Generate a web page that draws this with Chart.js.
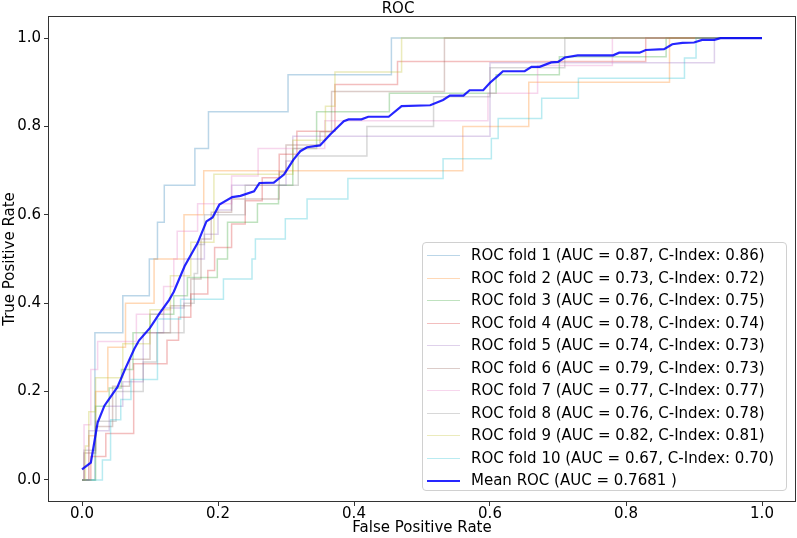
<!DOCTYPE html>
<html>
<head>
<meta charset="utf-8">
<script src="https://cdn.jsdelivr.net/npm/chart.js@4.4.0/dist/chart.umd.min.js"></script>
<style>
  body { margin: 0; background: #fff; }
  #wrap { position: relative; width: 797px; height: 538px; }
  #legend {
    position: absolute; left: 422px; top: 242px; width: 365px; height: 249px;
    box-sizing: border-box; border: 1px solid #d0d0d0; border-radius: 4px;
    background: rgba(255,255,255,0.8);
    font-family: "DejaVu Sans", sans-serif; font-size: 15px; color: #000;
    padding-top: 1px;
  }
  .row { height: 22.5px; line-height: 22.5px; position: relative; white-space: nowrap; }
  .swatch { position: absolute; left: 4px; top: 11px; width: 33px; }
  .row span { position: absolute; left: 48px; }
</style>
</head>
<body>
<div id="wrap">
  <canvas id="roc" width="797" height="538"></canvas>
  <div id="legend"></div>
</div>
<script>
// fold curves (fpr / tpr)
const fpr1 = [0, 0.019,0.019, 0.060,0.060, 0.099,0.099, 0.111,0.111, 0.121,0.121, 0.166,0.166, 0.186,0.186, 0.303,0.303, 0.455,0.455, 1];
const tpr1 = [0,0, 0.333,0.333, 0.417,0.417, 0.5,0.5, 0.583,0.583, 0.667,0.667, 0.75,0.75, 0.833,0.833, 0.917,0.917, 1,1];

const fpr2 = [0, 0.01,0.01, 0.02,0.02, 0.038,0.038, 0.064,0.064, 0.106,0.106, 0.15,0.15, 0.179,0.179, 0.56,0.56, 0.657,0.657, 0.864,0.864, 1];
const tpr2 = [0,0, 0.1,0.1, 0.2,0.2, 0.3,0.3, 0.4,0.4, 0.5,0.5, 0.6,0.6, 0.7,0.7, 0.8,0.8, 0.9,0.9, 1,1];

const fpr3 = [0, 0.02,0.02, 0.04,0.04, 0.058,0.058, 0.075,0.075, 0.1,0.1, 0.135,0.135, 0.155,0.155, 0.199,0.199, 0.214,0.214, 0.258,0.258, 0.289,0.289, 0.31,0.31, 0.345,0.345, 0.452,0.452, 0.609,0.609, 0.702,0.702, 0.859,0.859, 1];
const tpr3 = [0,0, 0.167,0.167, 0.208,0.208, 0.25,0.25, 0.333,0.333, 0.375,0.375, 0.417,0.417, 0.458,0.458, 0.5,0.5, 0.583,0.583, 0.625,0.625, 0.667,0.667, 0.75,0.75, 0.833,0.833, 0.875,0.875, 0.917,0.917, 0.958,0.958, 1,1];

const fpr4 = [0, 0.013,0.013, 0.035,0.035, 0.076,0.076, 0.125,0.125, 0.142,0.142, 0.16,0.16, 0.185,0.185, 0.195,0.195, 0.22,0.22, 0.24,0.24, 0.265,0.265, 0.29,0.29, 0.316,0.316, 0.372,0.372, 0.464,0.464, 0.829,0.829, 1];
const tpr4 = [0,0, 0.053,0.053, 0.105,0.105, 0.263,0.263, 0.316,0.316, 0.368,0.368, 0.421,0.421, 0.474,0.474, 0.526,0.526, 0.579,0.579, 0.632,0.632, 0.684,0.684, 0.737,0.737, 0.789,0.789, 0.895,0.895, 0.947,0.947, 1,1];

const fpr5 = [0, 0.01,0.01, 0.04,0.04, 0.06,0.06, 0.09,0.09, 0.12,0.12, 0.15,0.15, 0.18,0.18, 0.2,0.2, 0.22,0.22, 0.3,0.3, 0.31,0.31, 0.6,0.6, 0.93,0.93, 1];
const tpr5 = [0,0, 0.111,0.111, 0.167,0.167, 0.222,0.222, 0.333,0.333, 0.389,0.389, 0.5,0.5, 0.556,0.556, 0.611,0.611, 0.667,0.667, 0.722,0.722, 0.778,0.778, 0.944,0.944, 1,1];

const fpr6 = [0, 0.003,0.003, 0.02,0.02, 0.045,0.045, 0.07,0.07, 0.1,0.1, 0.13,0.13, 0.16,0.16, 0.175,0.175, 0.19,0.19, 0.22,0.22, 0.29,0.29, 0.3,0.3, 0.35,0.35, 0.367,0.367, 0.533,0.533, 1];
const tpr6 = [0,0, 0.061,0.061, 0.121,0.121, 0.212,0.212, 0.273,0.273, 0.333,0.333, 0.394,0.394, 0.455,0.455, 0.545,0.545, 0.606,0.606, 0.636,0.636, 0.697,0.697, 0.758,0.758, 0.788,0.788, 0.879,0.879, 1,1];

const fpr7 = [0, 0.003,0.003, 0.013,0.013, 0.023,0.023, 0.08,0.08, 0.12,0.12, 0.135,0.135, 0.14,0.14, 0.17,0.17, 0.22,0.22, 0.259,0.259, 0.357,0.357, 0.597,0.597, 0.67,0.67, 0.78,0.78, 1];
const tpr7 = [0,0, 0.125,0.125, 0.25,0.25, 0.313,0.313, 0.375,0.375, 0.438,0.438, 0.5,0.5, 0.563,0.563, 0.625,0.625, 0.688,0.688, 0.75,0.75, 0.813,0.813, 0.875,0.875, 0.938,0.938, 1,1];

const fpr8 = [0, 0.003,0.003, 0.02,0.02, 0.05,0.05, 0.09,0.09, 0.11,0.11, 0.15,0.15, 0.165,0.165, 0.17,0.17, 0.18,0.18, 0.24,0.24, 0.318,0.318, 0.419,0.419, 0.517,0.517, 0.6,0.6, 0.71,0.71, 1];
const tpr8 = [0,0, 0.067,0.067, 0.133,0.133, 0.2,0.2, 0.267,0.267, 0.333,0.333, 0.4,0.4, 0.467,0.467, 0.533,0.533, 0.6,0.6, 0.667,0.667, 0.733,0.733, 0.8,0.8, 0.867,0.867, 0.933,0.933, 1,1];

const fpr9 = [0, 0.005,0.005, 0.01,0.01, 0.02,0.02, 0.06,0.06, 0.1,0.1, 0.13,0.13, 0.16,0.16, 0.194,0.194, 0.31,0.31, 0.358,0.358, 0.372,0.372, 0.47,0.47, 1];
const tpr9 = [0,0, 0.077,0.077, 0.154,0.154, 0.231,0.231, 0.308,0.308, 0.385,0.385, 0.462,0.462, 0.538,0.538, 0.692,0.692, 0.769,0.769, 0.846,0.846, 0.923,0.923, 1,1];

const fpr10 = [0, 0.03,0.03, 0.042,0.042, 0.057,0.057, 0.072,0.072, 0.111,0.111, 0.145,0.145, 0.208,0.208, 0.25,0.25, 0.255,0.255, 0.299,0.299, 0.331,0.331, 0.391,0.391, 0.531,0.531, 0.602,0.602, 0.612,0.612, 0.676,0.676, 0.73,0.73, 0.886,0.886, 0.903,0.903, 1];
const tpr10 = [0,0, 0.045,0.045, 0.136,0.136, 0.182,0.182, 0.227,0.227, 0.364,0.364, 0.409,0.409, 0.455,0.455, 0.5,0.5, 0.545,0.545, 0.591,0.591, 0.636,0.636, 0.682,0.682, 0.727,0.727, 0.773,0.773, 0.818,0.818, 0.864,0.864, 0.909,0.909, 0.955,0.955, 1,1];

// mean curve
const meanFpr = [0, 0.013, 0.023, 0.033, 0.052, 0.064, 0.077, 0.084, 0.1, 0.114, 0.128, 0.135, 0.151, 0.17, 0.183, 0.192, 0.202, 0.221, 0.233, 0.253, 0.261, 0.282, 0.297, 0.311, 0.321, 0.331, 0.35, 0.365, 0.385, 0.392, 0.411, 0.421, 0.451, 0.47, 0.512, 0.531, 0.541, 0.561, 0.57, 0.59, 0.6, 0.612, 0.619, 0.651, 0.661, 0.673, 0.69, 0.7, 0.71, 0.729, 0.781, 0.79, 0.82, 0.829, 0.856, 0.868, 0.883, 0.9, 0.912, 0.93, 0.939, 1];
const meanTpr = [0.024, 0.039, 0.13, 0.168, 0.21, 0.253, 0.297, 0.316, 0.344, 0.377, 0.407, 0.426, 0.484, 0.536, 0.585, 0.594, 0.623, 0.64, 0.643, 0.653, 0.672, 0.673, 0.691, 0.725, 0.744, 0.753, 0.757, 0.782, 0.812, 0.816, 0.816, 0.822, 0.822, 0.846, 0.848, 0.86, 0.87, 0.87, 0.882, 0.882, 0.899, 0.915, 0.925, 0.925, 0.935, 0.935, 0.945, 0.946, 0.956, 0.961, 0.961, 0.967, 0.967, 0.973, 0.975, 0.986, 0.989, 0.99, 0.996, 0.996, 1, 1];

const aucValues = ['0.87', '0.73', '0.76', '0.78', '0.74', '0.79', '0.77', '0.76', '0.82', '0.67'];
const cIndexValues = ['0.86', '0.72', '0.75', '0.74', '0.73', '0.73', '0.77', '0.78', '0.81', '0.70'];
const meanAuc = '0.7681';
const tickValues = [0, 0.2, 0.4, 0.6, 0.8, 1.0];

const foldFpr = [fpr1, fpr2, fpr3, fpr4, fpr5, fpr6, fpr7, fpr8, fpr9, fpr10];
const foldTpr = [tpr1, tpr2, tpr3, tpr4, tpr5, tpr6, tpr7, tpr8, tpr9, tpr10];
const tab10 = ['31,119,180', '255,127,14', '44,160,44', '214,39,40', '148,103,189',
               '140,86,75', '227,119,194', '127,127,127', '188,189,34', '23,190,207'];

const zip = (xs, ys) => xs.map((x, i) => ({ x: x, y: ys[i] }));

const datasets = foldFpr.map((f, i) => ({
  label: `ROC fold ${i + 1} (AUC = ${aucValues[i]}, C-Index: ${cIndexValues[i]})`,
  data: zip(f, foldTpr[i]),
  borderColor: `rgba(${tab10[i]},0.3)`,
  borderWidth: 1.5,
  pointRadius: 0,
  order: 10 - i,
}));
datasets.push({
  label: `Mean ROC (AUC = ${meanAuc} )`,
  data: zip(meanFpr, meanTpr),
  borderColor: 'rgba(0,0,255,0.85)',
  borderWidth: 2.2,
  pointRadius: 0,
  order: -1,
});

Chart.defaults.font.family = '"DejaVu Sans", sans-serif';
Chart.defaults.font.size = 15;
Chart.defaults.color = '#000';

const frame = {
  id: 'frame',
  afterDatasetsDraw(chart) {
    const a = chart.chartArea, ctx = chart.ctx;
    ctx.save();
    ctx.strokeStyle = '#333';
    ctx.lineWidth = 1;
    ctx.strokeRect(Math.round(a.left) + 0.5, Math.round(a.top) + 0.5,
                   Math.round(a.right - a.left) - 1, Math.round(a.bottom - a.top) - 1);
    ctx.restore();
  }
};

const setTicks = s => { s.ticks = tickValues.map(v => ({ value: v })); };

new Chart(document.getElementById('roc'), {
  type: 'line',
  data: { datasets: datasets },
  options: {
    responsive: false,
    animation: false,
    layout: { padding: { top: 0, right: 1, left: 0, bottom: 0 } },
    plugins: {
      legend: { display: false },
      tooltip: { enabled: false },
      title: { display: true, text: 'ROC', font: { size: 15, weight: 'normal', lineHeight: 1.0 },
               padding: { top: 2, bottom: -1 } },
    },
    scales: {
      x: {
        type: 'linear', min: -0.05, max: 1.05,
        afterBuildTicks: setTicks,
        afterFit: s => { s.height = 36; },
        grid: { drawOnChartArea: false, tickLength: 4, color: '#333' },
        border: { display: false },
        ticks: { padding: 2, font: { lineHeight: 0.8 }, callback: v => v.toFixed(1), maxRotation: 0 },
        title: { display: true, text: 'False Positive Rate', padding: { top: 0, bottom: 1 } },
      },
      y: {
        type: 'linear', min: -0.05, max: 1.05,
        afterBuildTicks: setTicks,
        afterFit: s => { s.width = 48; },
        grid: { drawOnChartArea: false, tickLength: 4, color: '#333' },
        border: { display: false },
        ticks: { padding: 3, callback: v => v.toFixed(1) },
        title: { display: true, text: 'True Positive Rate', padding: { top: 1, bottom: 0 } },
      },
    },
  },
  plugins: [frame],
});

// legend box drawn from the same labels and colours
const legend = document.getElementById('legend');
datasets.forEach(d => {
  const row = document.createElement('div');
  row.className = 'row';
  const sw = document.createElement('div');
  sw.className = 'swatch';
  sw.style.borderTop = `${d.borderWidth}px solid ${d.borderColor}`;
  const tx = document.createElement('span');
  tx.textContent = d.label;
  row.appendChild(sw);
  row.appendChild(tx);
  legend.appendChild(row);
});
</script>
</body>
</html>
